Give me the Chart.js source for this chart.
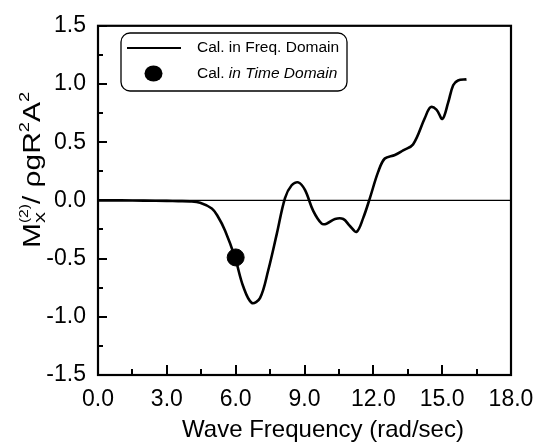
<!DOCTYPE html>
<html>
<head>
<meta charset="utf-8">
<script src="https://cdn.jsdelivr.net/npm/chart.js@4.4.1/dist/chart.umd.min.js"></script>
<style>
  html, body { margin: 0; padding: 0; background: #fff; }
  canvas { display: block; }
</style>
</head>
<body>
<canvas id="chart" width="547" height="446"></canvas>
<script>
// Values
const freq = [0, 1.0, 2.0, 3.0, 3.5, 4.0, 4.45, 4.96, 5.2, 5.54, 5.97, 6.33, 6.70, 7.06, 7.42, 7.79,
  8.15, 8.44, 8.73, 9.02, 9.38, 9.75, 9.96, 10.33, 10.69, 10.98, 11.27, 11.56, 11.85, 12.21, 12.5,
  12.94, 13.3, 13.73, 14.25, 14.49, 14.75, 15.01, 15.26, 15.48, 15.69, 16.06];
const moment = [0, 0, -0.002, -0.004, -0.006, -0.008, -0.02, -0.07, -0.13, -0.26, -0.49, -0.74, -0.88,
  -0.84, -0.60, -0.29, 0.02, 0.13, 0.155, 0.09, -0.09, -0.20, -0.20, -0.16, -0.16, -0.22, -0.27, -0.15,
  0.02, 0.245, 0.36, 0.39, 0.43, 0.48, 0.71, 0.80, 0.78, 0.70, 0.84, 0.99, 1.03, 1.04];
const timeFreq = [6.0];
const timeMoment = [-0.49];
const refFreq = [0, 18];
const refMoment = [0, 0];
const xTicks = [0, 3, 6, 9, 12, 15, 18];
const yTicks = [-1.5, -1.0, -0.5, 0.0, 0.5, 1.0, 1.5];

const FONT = '"Liberation Sans", Arial, Helvetica, sans-serif';

const toPoints = (xs, ys) => xs.map((v, i) => ({ x: v, y: ys[i] }));

// midpoints between major ticks -> minor ticks
const minors = arr => arr.slice(1).map((v, i) => (v + arr[i]) / 2);

function drawYTitle(ctx, cx, cy) {
  const segs = [
    { t: 'M', s: 23, dy: 0 },
    { t: 'x', s: 17, dy: 5, stack: true },
    { t: '(2)', s: 12, dy: -12 },
    { t: '/ ', s: 23, dy: 0 },
    { t: '\u03C1gR', s: 23, dy: 0 },
    { t: '2', s: 14, dy: -11 },
    { t: 'A', s: 23, dy: 0 },
    { t: '2', s: 14, dy: -11 }
  ];
  ctx.save();
  ctx.translate(cx, cy);
  ctx.rotate(-Math.PI / 2);
  ctx.scale(1.3, 1);
  ctx.fillStyle = '#000';
  ctx.textBaseline = 'alphabetic';
  ctx.textAlign = 'left';
  // measure
  let total = 0, pending = 0;
  segs.forEach(sg => {
    ctx.font = sg.s + 'px ' + FONT;
    const w = ctx.measureText(sg.t).width;
    if (sg.stack) { pending = w; return; }
    total += Math.max(w, pending);
    pending = 0;
  });
  let x = -total / 2;
  pending = 0;
  segs.forEach(sg => {
    ctx.font = sg.s + 'px ' + FONT;
    const w = ctx.measureText(sg.t).width;
    ctx.fillText(sg.t, x, sg.dy);
    if (sg.stack) { pending = w; return; }
    x += Math.max(w, pending);
    pending = 0;
  });
  ctx.restore();
}

const decorPlugin = {
  id: 'decor',
  afterDraw(chart) {
    const { ctx, chartArea: a, scales: { x, y } } = chart;
    ctx.save();
    ctx.strokeStyle = '#000';
    ctx.lineCap = 'butt';

    // tick marks pointing into the plot
    ctx.lineWidth = 2;
    ctx.beginPath();
    xTicks.forEach(v => {
      const px = Math.round(x.getPixelForValue(v));
      ctx.moveTo(px, a.bottom); ctx.lineTo(px, a.bottom - 10);
    });
    minors(xTicks).forEach(v => {
      const px = Math.round(x.getPixelForValue(v));
      ctx.moveTo(px, a.bottom); ctx.lineTo(px, a.bottom - 6);
    });
    yTicks.forEach(v => {
      const py = Math.round(y.getPixelForValue(v));
      ctx.moveTo(a.left, py); ctx.lineTo(a.left + 9, py);
    });
    minors(yTicks).forEach(v => {
      const py = Math.round(y.getPixelForValue(v));
      ctx.moveTo(a.left, py); ctx.lineTo(a.left + 5, py);
    });
    ctx.stroke();

    // frame
    ctx.lineWidth = 2.2;
    ctx.strokeRect(a.left, a.top, a.right - a.left, a.bottom - a.top);

    // axis titles
    ctx.fillStyle = '#000';
    ctx.font = '24px ' + FONT;
    ctx.textAlign = 'center';
    ctx.textBaseline = 'alphabetic';
    ctx.fillText('Wave Frequency (rad/sec)', 323, 437);
    drawYTitle(ctx, 40, 170);

    // legend box
    const lx = 121, ly = 33, lw = 226, lh = 58, r = 9;
    ctx.lineWidth = 1.3;
    ctx.beginPath();
    ctx.roundRect(lx, ly, lw, lh, r);
    ctx.fillStyle = '#fff';
    ctx.fill();
    ctx.stroke();

    ctx.lineWidth = 2.2;
    ctx.beginPath();
    ctx.moveTo(127, 48); ctx.lineTo(181, 48);
    ctx.stroke();

    ctx.fillStyle = '#000';
    ctx.beginPath();
    ctx.ellipse(153.5, 73.5, 9, 8, 0, 0, Math.PI * 2);
    ctx.fill();

    ctx.textAlign = 'left';
    ctx.textBaseline = 'middle';
    ctx.font = '15.5px ' + FONT;
    ctx.fillText('Cal. in Freq. Domain', 197, 48);
    const pre = 'Cal. ';
    ctx.fillText(pre, 197, 74);
    const pw = ctx.measureText(pre).width;
    ctx.font = 'italic 15.5px ' + FONT;
    ctx.fillText('in Time Domain', 197 + pw, 74);

    ctx.restore();
  }
};

new Chart(document.getElementById('chart'), {
  type: 'scatter',
  data: {
    datasets: [
      {
        label: 'zero',
        data: toPoints(refFreq, refMoment),
        showLine: true,
        borderColor: '#000',
        borderWidth: 1.4,
        pointRadius: 0
      },
      {
        label: 'Cal. in Freq. Domain',
        data: toPoints(freq, moment),
        showLine: true,
        borderColor: '#000',
        borderWidth: 2.6,
        tension: 0.35,
        pointRadius: 0
      },
      {
        label: 'Cal. in Time Domain',
        data: toPoints(timeFreq, timeMoment),
        backgroundColor: '#000',
        borderColor: '#000',
        pointRadius: 8.5,
        pointStyle: 'circle'
      }
    ]
  },
  options: {
    responsive: false,
    animation: false,
    layout: { padding: { left: 0, right: 36, top: 20, bottom: 0 } },
    plugins: { legend: { display: false }, tooltip: { enabled: false } },
    scales: {
      x: {
        type: 'linear',
        min: 0, max: 18,
        afterBuildTicks: s => { s.ticks = xTicks.map(v => ({ value: v })); },
        afterFit: s => { s.height = 71; },
        grid: { display: false, drawTicks: false },
        border: { display: false },
        ticks: {
          color: '#000',
          padding: 11,
          maxRotation: 0,
          font: { family: FONT, size: 23 },
          callback: v => v.toFixed(1)
        }
      },
      y: {
        type: 'linear',
        min: -1.5, max: 1.5,
        afterBuildTicks: s => { s.ticks = yTicks.map(v => ({ value: v })); },
        afterFit: s => { s.width = 98; },
        grid: { display: false, drawTicks: false },
        border: { display: false },
        ticks: {
          color: '#000',
          padding: 12,
          font: { family: FONT, size: 23 },
          callback: v => v.toFixed(1)
        }
      }
    }
  },
  plugins: [decorPlugin]
});
</script>
</body>
</html>
